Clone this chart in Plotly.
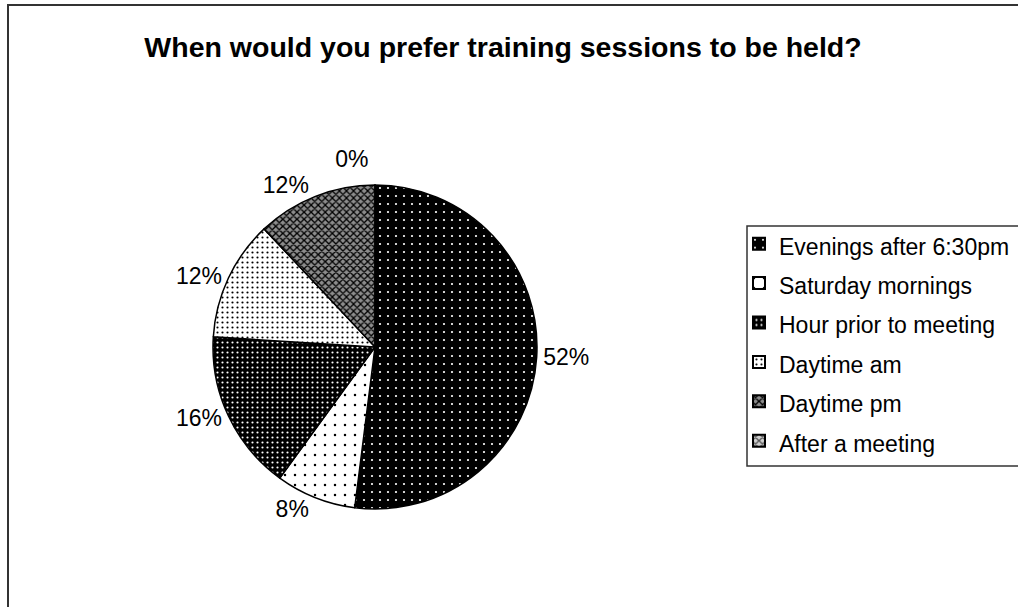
import plotly.graph_objects as go

# Survey answers: preferred time for training sessions (percent of respondents)
categories = [
    "Evenings after 6:30pm",
    "Saturday mornings",
    "Hour prior to meeting",
    "Daytime am",
    "Daytime pm",
    "After a meeting",
]
shares = [52, 8, 16, 12, 12, 0]

title_text = "When would you prefer training sessions to be held?"

# Monochrome fill patterns, one per slice
pattern_shapes = [".", ".", ".", ".", "x", "x"]
pattern_bg = ["black", "white", "black", "white", "#8c8c8c", "#cfcfcf"]
pattern_fg = ["white", "black", "white", "black", "black", "#555555"]
pattern_size = [8, 10, 5, 5, 5, 5]
pattern_solidity = [0.06, 0.05, 0.15, 0.15, 0.45, 0.45]

FONT = "Liberation Sans, Arial, sans-serif"
W, H = 1018, 607
cx, cy, r = 375, 347, 162

# legend rows are spaced by the (larger) legend font; the visible text is a bit smaller
legend_labels = ['<span style="font-size:23px">%s</span>' % c for c in categories]

fig = go.Figure(
    go.Pie(
        labels=legend_labels,
        values=shares,
        customdata=categories,
        sort=False,
        direction="clockwise",
        rotation=0,
        texttemplate="%{value}%",
        textposition="outside",
        textfont=dict(family=FONT, size=23, color="black"),
        marker=dict(
            colors=pattern_bg,
            line=dict(color="black", width=1.5),
            pattern=dict(
                shape=pattern_shapes,
                bgcolor=pattern_bg,
                fgcolor=pattern_fg,
                size=pattern_size,
                solidity=pattern_solidity,
                fillmode="replace",
            ),
        ),
        domain=dict(
            x=[(cx - r) / W, (cx + r) / W],
            y=[1 - (cy + r) / H, 1 - (cy - r) / H],
        ),
        hovertemplate="%{customdata}: %{value}%<extra></extra>",
        showlegend=True,
    )
)

fig.update_layout(
    width=W,
    height=H,
    margin=dict(l=0, r=0, t=0, b=0),
    paper_bgcolor="white",
    plot_bgcolor="white",
    title=dict(
        text="<b>" + title_text + "</b>",
        x=503 / W,
        xanchor="center",
        y=1 - 47 / H,
        yanchor="middle",
        font=dict(family=FONT, size=28.5, color="black"),
    ),
    legend=dict(
        x=739 / W,
        xanchor="left",
        y=1 - 219 / H,
        yanchor="top",
        bgcolor="rgba(0,0,0,0)",
        borderwidth=0,
        font=dict(family=FONT, size=28, color="black"),
        itemsizing="constant",
        tracegroupgap=0,
    ),
    shapes=[
        # outer chart frame
        dict(type="rect", xref="paper", yref="paper",
             x0=8 / W, x1=1.02, y0=-0.02, y1=1 - 5 / H,
             line=dict(color="#333333", width=2), fillcolor="rgba(0,0,0,0)"),
        # legend frame
        dict(type="rect", xref="paper", yref="paper",
             x0=747 / W, x1=1.02, y0=1 - 466 / H, y1=1 - 226 / H,
             line=dict(color="#333333", width=1.5), fillcolor="rgba(0,0,0,0)"),
    ],
)

# outside percentage labels are shown without leader lines
hide_leaders = (
    "var s=document.createElement('style');"
    "s.textContent='path.textline{display:none}';"
    "document.head.appendChild(s);"
)

fig.write_html("out.html", post_script=hide_leaders)
